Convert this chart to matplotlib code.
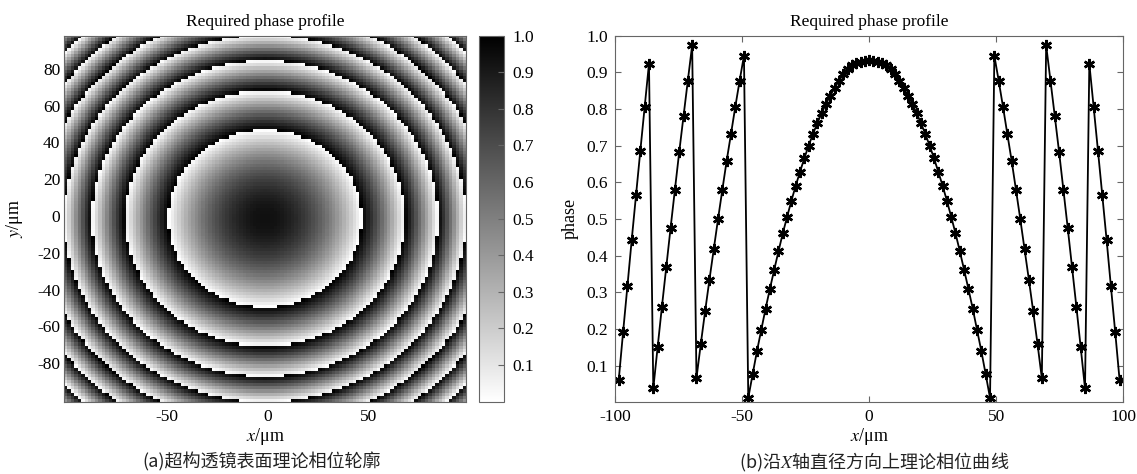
import numpy as np
import matplotlib
matplotlib.use('Agg')
from matplotlib import pyplot as plt

plt.rcParams['font.family'] = ['Liberation Serif', 'DejaVu Serif']
plt.rcParams['mathtext.fontset'] = 'stix'
plt.rcParams['axes.unicode_minus'] = False

# -----------------------------
# 相位数据
# -----------------------------
step = 1.7  # 采样间隔 (um)

# 沿x轴正半轴的归一化相位，x = k*step, k = 0..58
phase_half = [0.932, 0.931, 0.929, 0.925, 0.920, 0.908, 0.894, 0.877, 0.857, 0.836,
              0.814, 0.788, 0.761, 0.732, 0.700, 0.666, 0.629, 0.591, 0.550, 0.506,
              0.461, 0.412, 0.361, 0.309, 0.255, 0.197, 0.139, 0.076, 0.012,
              0.945, 0.877, 0.806, 0.732, 0.659, 0.580, 0.500, 0.417, 0.334, 0.248,
              0.159, 0.066,
              0.973, 0.877, 0.780, 0.682, 0.579, 0.475, 0.368, 0.261, 0.150, 0.038,
              0.923, 0.805, 0.686, 0.565, 0.443, 0.316, 0.191, 0.062]

# 采样线以外（角落处）的相位环半径 (um)
outer_rings = [111.8, 123.2, 133.8, 143.6]

# 面内网格：117 x 117，起点 -100 um
n_pix = 117
grid_x0 = -100.0

cb_ticks = [0.1, 0.2, 0.3, 0.4, 0.5, 0.6, 0.7, 0.8, 0.9, 1.0]
x_ticks_a = [-50, 0, 50]
y_ticks_a = [-80, -60, -40, -20, 0, 20, 40, 60, 80]
x_ticks_b = [-100, -50, 0, 50, 100]
y_ticks_b = [0.1, 0.2, 0.3, 0.4, 0.5, 0.6, 0.7, 0.8, 0.9, 1.0]

# 直径方向曲线
ph = np.array(phase_half)
x_line = step * np.arange(-(len(ph) - 1), len(ph))
phase_line = np.concatenate([ph[::-1], ph[1:]])

# 展开相位，再按半径铺到整个面上
jumps = np.concatenate([[0], np.cumsum(np.diff(ph) > 0.5)])
unwrapped = ph - jumps
r_anchor = np.concatenate([step * np.arange(len(ph)), outer_rings])
u_anchor = np.concatenate([unwrapped, -(jumps[-1] + 1 + np.arange(len(outer_rings)))])

c = n_pix // 2
ii, jj = np.meshgrid(np.arange(n_pix) - c, np.arange(n_pix) - c)
rr = step * np.hypot(ii, jj)
Z = np.mod(np.interp(rr, r_anchor, u_anchor), 1.0)

ext = [grid_x0 - step / 2, grid_x0 + step * (n_pix - 0.5),
       grid_x0 - step / 2, grid_x0 + step * (n_pix - 0.5)]

W, H = 1137, 474
fig = plt.figure(figsize=(W / 100, H / 100), dpi=100)

spine_c = '0.4'
fs_tick = 12.5
fs_lab = 13

# -----------------------------
# (a) 相位分布
# -----------------------------
ax1 = fig.add_axes([64.3 / W, 1 - 401.7 / H, (466 - 64.3) / W, (401.7 - 35.5) / H])
im = ax1.imshow(Z, origin='lower', extent=ext, cmap='gray_r', vmin=0, vmax=1,
                aspect='auto', interpolation='nearest')
ax1.set_xlim(ext[0], ext[1])
ax1.set_ylim(ext[2], ext[3])
ax1.set_xticks(x_ticks_a)
ax1.set_yticks(y_ticks_a)
ax1.tick_params(direction='in', length=0, labelsize=fs_tick, pad=5)
ax1.tick_params(axis='y', pad=3)
for s in ax1.spines.values():
    s.set_color(spine_c)
    s.set_linewidth(0.8)
ax1.set_title('Required phase profile', fontsize=fs_tick, pad=7)
ax1.set_xlabel('$x$/\u03bcm', fontsize=fs_lab, labelpad=1)
ax1.set_ylabel('$y$/\u03bcm', fontsize=fs_lab)
ax1.yaxis.set_label_coords(-0.098, 0.5)

cax = fig.add_axes([479.3 / W, 1 - 401.7 / H, (504 - 479.3) / W, (401.7 - 35.5) / H])
cb = fig.colorbar(im, cax=cax, ticks=cb_ticks)
cb.ax.set_yticklabels(['%.1f' % t for t in cb_ticks])
cb.ax.tick_params(direction='in', length=4, width=0.8, color=spine_c,
                  labelsize=fs_tick, pad=6)
cb.outline.set_edgecolor(spine_c)
cb.outline.set_linewidth(0.8)

# -----------------------------
# (b) 沿x轴直径方向相位
# -----------------------------
ax2 = fig.add_axes([615.2 / W, 1 - 401.7 / H, (1123.1 - 615.2) / W, (401.7 - 35.5) / H])
ax2.plot(x_line, phase_line, color='k', linewidth=1.3,
         marker=(6, 2, 0), markersize=8, markeredgewidth=1.8,
         markeredgecolor='k')
ax2.set_xlim(-100, 100)
ax2.set_ylim(0.0018, 1.0)
ax2.set_xticks(x_ticks_b)
ax2.set_yticks(y_ticks_b)
ax2.set_yticklabels(['%.1f' % t for t in y_ticks_b])
ax2.tick_params(direction='in', length=4, width=0.8, color=spine_c,
                labelsize=fs_tick, pad=5, top=True, right=True)
for s in ax2.spines.values():
    s.set_color(spine_c)
    s.set_linewidth(0.8)
ax2.set_title('Required phase profile', fontsize=fs_tick, pad=7)
ax2.set_xlabel('$x$/\u03bcm', fontsize=fs_lab, labelpad=1)
ax2.set_ylabel('phase', fontsize=fs_lab)
ax2.yaxis.set_label_coords(-0.072, 0.5)

# 图注
cap_kw = dict(fontsize=13, family='Noto Sans CJK SC', weight='light',
              color='#222222', ha='center', va='center')
fig.text(261.7 / W, 1 - 462 / H, '(a)超构透镜表面理论相位轮廓', **cap_kw)
fig.text(874.6 / W, 1 - 462 / H, '(b)沿$X$轴直径方向上理论相位曲线', **cap_kw)

plt.savefig('out.png', dpi=100)
